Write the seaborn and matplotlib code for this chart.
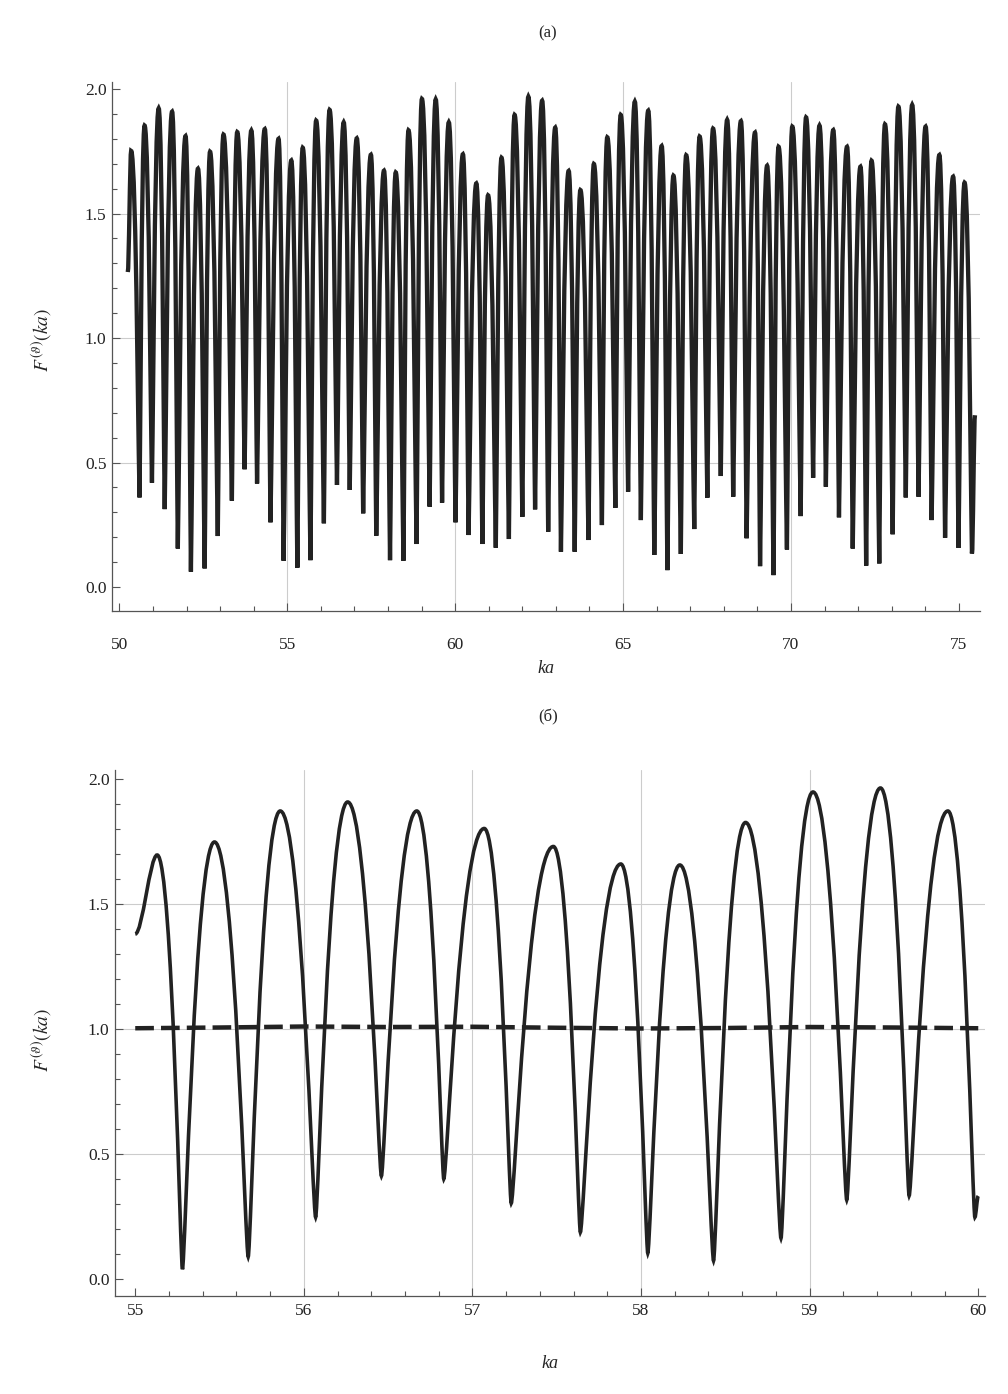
import numpy as np
import matplotlib
matplotlib.use("Agg")
import matplotlib.pyplot as plt
import seaborn as sns
from matplotlib.path import Path
from matplotlib.patches import PathPatch
from matplotlib.ticker import MultipleLocator

# ---- panel (a): extrema ----------------------------------------------------
a_start = (50.25, 1.265)
a_end = (75.48, 0.69)
a_peak_ka = [50.35, 50.75, 51.17, 51.57, 51.97, 52.34, 52.70, 53.10, 53.51, 53.93,
             54.33, 54.74, 55.12, 55.46, 55.86, 56.26, 56.68, 57.07, 57.49, 57.88,
             58.23, 58.61, 59.01, 59.42, 59.81, 60.23, 60.63, 60.98, 61.38, 61.77,
             62.18, 62.59, 62.98, 63.38, 63.73, 64.13, 64.53, 64.93, 65.35, 65.75,
             66.15, 66.50, 66.88, 67.28, 67.68, 68.10, 68.51, 68.93, 69.29, 69.63,
             70.04, 70.45, 70.85, 71.26, 71.67, 72.07, 72.40, 72.80, 73.20, 73.61,
             74.01, 74.42, 74.83, 75.17]
a_peak_F = [1.751, 1.853, 1.922, 1.909, 1.811, 1.680, 1.748, 1.817, 1.827, 1.833,
            1.839, 1.800, 1.713, 1.764, 1.873, 1.916, 1.866, 1.802, 1.736, 1.672,
            1.665, 1.834, 1.960, 1.958, 1.866, 1.738, 1.621, 1.573, 1.724, 1.896,
            1.969, 1.953, 1.845, 1.671, 1.594, 1.699, 1.806, 1.896, 1.949, 1.913,
            1.771, 1.652, 1.734, 1.809, 1.841, 1.876, 1.871, 1.825, 1.692, 1.768,
            1.849, 1.886, 1.853, 1.835, 1.768, 1.688, 1.712, 1.858, 1.929, 1.936,
            1.849, 1.735, 1.648, 1.624]
a_trough_ka = [50.60, 50.97, 51.35, 51.74, 52.13, 52.54, 52.93, 53.35, 53.73, 54.10,
               54.50, 54.89, 55.30, 55.69, 56.09, 56.48, 56.86, 57.26, 57.65, 58.06,
               58.46, 58.85, 59.24, 59.61, 60.01, 60.40, 60.81, 61.21, 61.60, 62.00,
               62.38, 62.77, 63.15, 63.56, 63.97, 64.37, 64.77, 65.15, 65.53, 65.93,
               66.32, 66.72, 67.12, 67.51, 67.91, 68.28, 68.68, 69.08, 69.48, 69.88,
               70.29, 70.66, 71.04, 71.43, 71.84, 72.24, 72.63, 73.03, 73.42, 73.80,
               74.19, 74.59, 74.99, 75.39]
a_trough_F = [0.360, 0.419, 0.313, 0.155, 0.062, 0.075, 0.205, 0.347, 0.473, 0.416,
              0.260, 0.106, 0.078, 0.108, 0.256, 0.410, 0.390, 0.296, 0.206, 0.108,
              0.106, 0.173, 0.323, 0.339, 0.260, 0.209, 0.173, 0.158, 0.193, 0.282,
              0.312, 0.222, 0.142, 0.142, 0.189, 0.249, 0.318, 0.383, 0.269, 0.129,
              0.068, 0.133, 0.233, 0.359, 0.446, 0.363, 0.196, 0.084, 0.048, 0.151,
              0.285, 0.439, 0.403, 0.280, 0.155, 0.086, 0.095, 0.212, 0.360, 0.363,
              0.269, 0.198, 0.158, 0.135]

# ---- panel (б): extrema ----------------------------------------------------
b_start = (55.0, 1.38)
b_end = (60.0, 0.332)
b_peak_ka = [55.13, 55.47, 55.86, 56.26, 56.67, 57.07, 57.48, 57.88, 58.23, 58.62,
             59.02, 59.42, 59.82]
b_peak_F = [1.696, 1.748, 1.872, 1.908, 1.872, 1.802, 1.730, 1.660, 1.656, 1.826,
            1.948, 1.964, 1.872]
b_trough_ka = [55.28, 55.67, 56.07, 56.46, 56.83, 57.23, 57.64, 58.04, 58.43, 58.83,
               59.22, 59.59, 59.98]
b_trough_F = [0.039, 0.089, 0.247, 0.412, 0.400, 0.303, 0.187, 0.103, 0.073, 0.163,
              0.316, 0.333, 0.247]
# dashed (averaged) curve
b_mean_ka = [55.0, 55.5, 56.0, 56.5, 57.0, 57.5, 58.0, 58.5, 59.0, 59.5, 60.0]
b_mean_F = [1.003, 1.006, 1.010, 1.008, 1.009, 1.005, 1.002, 1.004, 1.008, 1.006, 1.003]

LINE = "#222222"
AXC = "#555555"


def wave_path(start, peak_ka, peak_F, trough_ka, trough_F, end, h_peak=0.6, h_trough=0.08):
    # knots: start, then alternating peak/trough, then end
    kx = [start[0]]
    ky = [start[1]]
    for p, pf, t, tf in zip(peak_ka, peak_F, trough_ka, trough_F):
        kx += [p, t]
        ky += [pf, tf]
    kx.append(end[0])
    ky.append(end[1])
    verts = [(kx[0], ky[0])]
    codes = [Path.MOVETO]
    for i in range(len(kx) - 1):
        x0, y0, x1, y1 = kx[i], ky[i], kx[i + 1], ky[i + 1]
        dx = x1 - x0
        h0 = h_peak if y0 > y1 else h_trough
        h1 = h_peak if y1 > y0 else h_trough
        if i == 0 or i == len(kx) - 2:
            h0 = h1 = 0.33
        verts += [(x0 + h0 * dx, y0), (x1 - h1 * dx, y1), (x1, y1)]
        codes += [Path.CURVE4] * 3
    return Path(verts, codes)


sns.set_style("ticks")
plt.rcParams["font.family"] = ["Liberation Serif", "DejaVu Serif"]
plt.rcParams["mathtext.fontset"] = "stix"

fig = plt.figure(figsize=(10.08, 13.94), dpi=100)
W, H = 1008, 1394
ax1 = fig.add_axes([112 / W, 1 - 611 / H, 868 / W, 529 / H])
ax2 = fig.add_axes([115 / W, 1 - 1296 / H, 870 / W, 526 / H])


def style(ax, xlim, ylim, xmaj, xmin, xgrid):
    ax.set_xlim(*xlim)
    ax.set_ylim(*ylim)
    for s in ["top", "right"]:
        ax.spines[s].set_visible(False)
    for s in ["left", "bottom"]:
        ax.spines[s].set_color(AXC)
        ax.spines[s].set_linewidth(0.9)
    ax.xaxis.set_major_locator(MultipleLocator(xmaj))
    ax.xaxis.set_minor_locator(MultipleLocator(xmin))
    ax.yaxis.set_major_locator(MultipleLocator(0.5))
    ax.yaxis.set_minor_locator(MultipleLocator(0.1))
    ax.yaxis.set_major_formatter(matplotlib.ticker.FormatStrFormatter("%.1f"))
    ax.tick_params(which="both", direction="in", color=AXC, width=0.8,
                   labelsize=12.5, labelcolor="#222222")
    ax.tick_params(which="major", length=6)
    ax.tick_params(which="minor", length=3.5)
    ax.tick_params(axis="y", pad=4)
    for g in xgrid:
        ax.axvline(g, color="#cccccc", lw=0.8, zorder=0)
    for g in [0.5, 1.0, 1.5]:
        ax.axhline(g, color="#cccccc", lw=0.8, zorder=0)


style(ax1, (49.78, 75.63), (-0.096, 2.028), 5, 1, [55, 60, 65, 70])
ax1.tick_params(axis="x", pad=19)
style(ax2, (54.88, 60.04), (-0.068, 2.036), 1, 0.2, [56, 57, 58, 59])
ax2.tick_params(axis="x", pad=5)

ax1.add_patch(PathPatch(wave_path(a_start, a_peak_ka, a_peak_F, a_trough_ka, a_trough_F, a_end),
                        fill=False, edgecolor=LINE, lw=3.1, zorder=3))
ax2.add_patch(PathPatch(wave_path(b_start, b_peak_ka, b_peak_F, b_trough_ka, b_trough_F, b_end),
                        fill=False, edgecolor=LINE, lw=2.6, zorder=3))
sns.lineplot(x=b_mean_ka, y=b_mean_F, ax=ax2, color=LINE, lw=3.2, zorder=4,
             dashes=False, linestyle=(0, (4.2, 1.6)))

for ax in (ax1, ax2):
    ax.set_xlabel("ka", fontstyle="italic", fontsize=13)
    ax.set_ylabel("")
ax1.xaxis.labelpad = 5
ax2.xaxis.labelpad = 26

ylab = r"$F^{(\vartheta)}(ka)$"
fig.text(42 / W, 1 - 340 / H, ylab, rotation=90, ha="center", va="center", fontsize=14)
fig.text(42 / W, 1 - 1040 / H, ylab, rotation=90, ha="center", va="center", fontsize=14)
fig.text(548 / W, 1 - 33 / H, "(a)", ha="center", va="center", fontsize=12)
fig.text(548 / W, 1 - 717 / H, "(б)", ha="center", va="center", fontsize=12)

fig.savefig("out.png", dpi=100, facecolor="white")
